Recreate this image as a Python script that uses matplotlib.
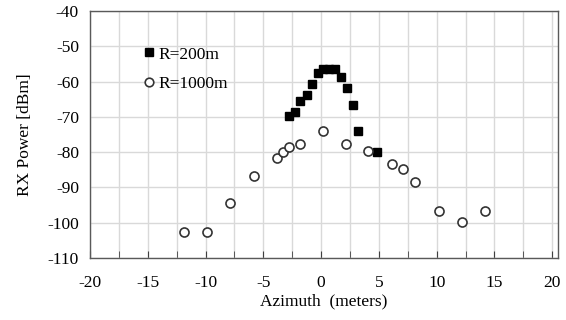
import numpy as np
import matplotlib
matplotlib.use("Agg")
import matplotlib.pyplot as plt
from matplotlib.ticker import MultipleLocator

# R=200m measurements (azimuth in m, power in dBm)
az_200 = [-2.8, -2.3, -1.8, -1.25, -0.75, -0.3, 0.2, 0.7, 1.2, 1.7, 2.2, 2.75, 3.15, 4.8]
p_200 = [-69.7, -68.6, -65.5, -63.9, -60.8, -57.6, -56.5, -56.5, -56.5, -58.8, -61.9, -66.6, -73.9, -79.9]

# R=1000m measurements
az_1000 = [-11.9, -9.85, -7.9, -5.8, -3.85, -3.3, -2.75, -1.8, 0.15, 2.15, 4.1, 6.15, 7.1, 8.15, 10.2, 12.2, 14.2]
p_1000 = [-102.5, -102.5, -94.5, -86.7, -81.8, -79.9, -78.6, -77.7, -73.9, -77.7, -79.7, -83.4, -84.7, -88.6, -96.6, -99.9, -96.7]

plt.rcParams['font.family'] = ['Liberation Serif', 'DejaVu Serif']
plt.rcParams['axes.unicode_minus'] = False

fig = plt.figure(figsize=(5.66, 3.2), dpi=100)
ax = fig.add_axes([90/566, 1-258/320, (558-90)/566, (258-11)/320])

ax.plot(az_200, p_200, ls='none', marker='s', ms=6.2, mfc='black', mec='black', label='R=200m', zorder=3)
ax.plot(az_1000, p_1000, ls='none', marker='o', ms=6.5, mfc='white', mec='#333333', mew=1.2, label='R=1000m', zorder=3)

ax.set_xlim(-20, 20.5)
ax.set_ylim(-110, -40)
ax.xaxis.set_major_locator(MultipleLocator(5))
ax.xaxis.set_minor_locator(MultipleLocator(2.5))
ax.yaxis.set_major_locator(MultipleLocator(10))
ax.grid(True, which='both', axis='x', color='#d9d9d9', lw=1.0, zorder=0)
ax.grid(True, which='major', axis='y', color='#d9d9d9', lw=1.0, zorder=0)
ax.set_axisbelow(True)

ax.tick_params(axis='x', which='both', direction='in', length=5, color='#404040', labelsize=12.5, pad=12)
ax.tick_params(axis='y', length=0, labelsize=12.5, pad=8)
ax.tick_params(top=False, right=False)
for s in ax.spines.values():
  s.set_color('#595959')
  s.set_linewidth(1.0)

ax.set_xlabel('Azimuth  (meters)', fontsize=12.5, labelpad=2)
ax.set_ylabel('RX Power [dBm]', fontsize=12.5, labelpad=10)

ax.legend(loc='upper left', bbox_to_anchor=(0.1, 0.885), frameon=False, fontsize=12.5,
          markerscale=0.95, handlelength=0.6, handletextpad=0.25, labelspacing=0.75, borderaxespad=0)

fig.savefig('out.png', dpi=100)
